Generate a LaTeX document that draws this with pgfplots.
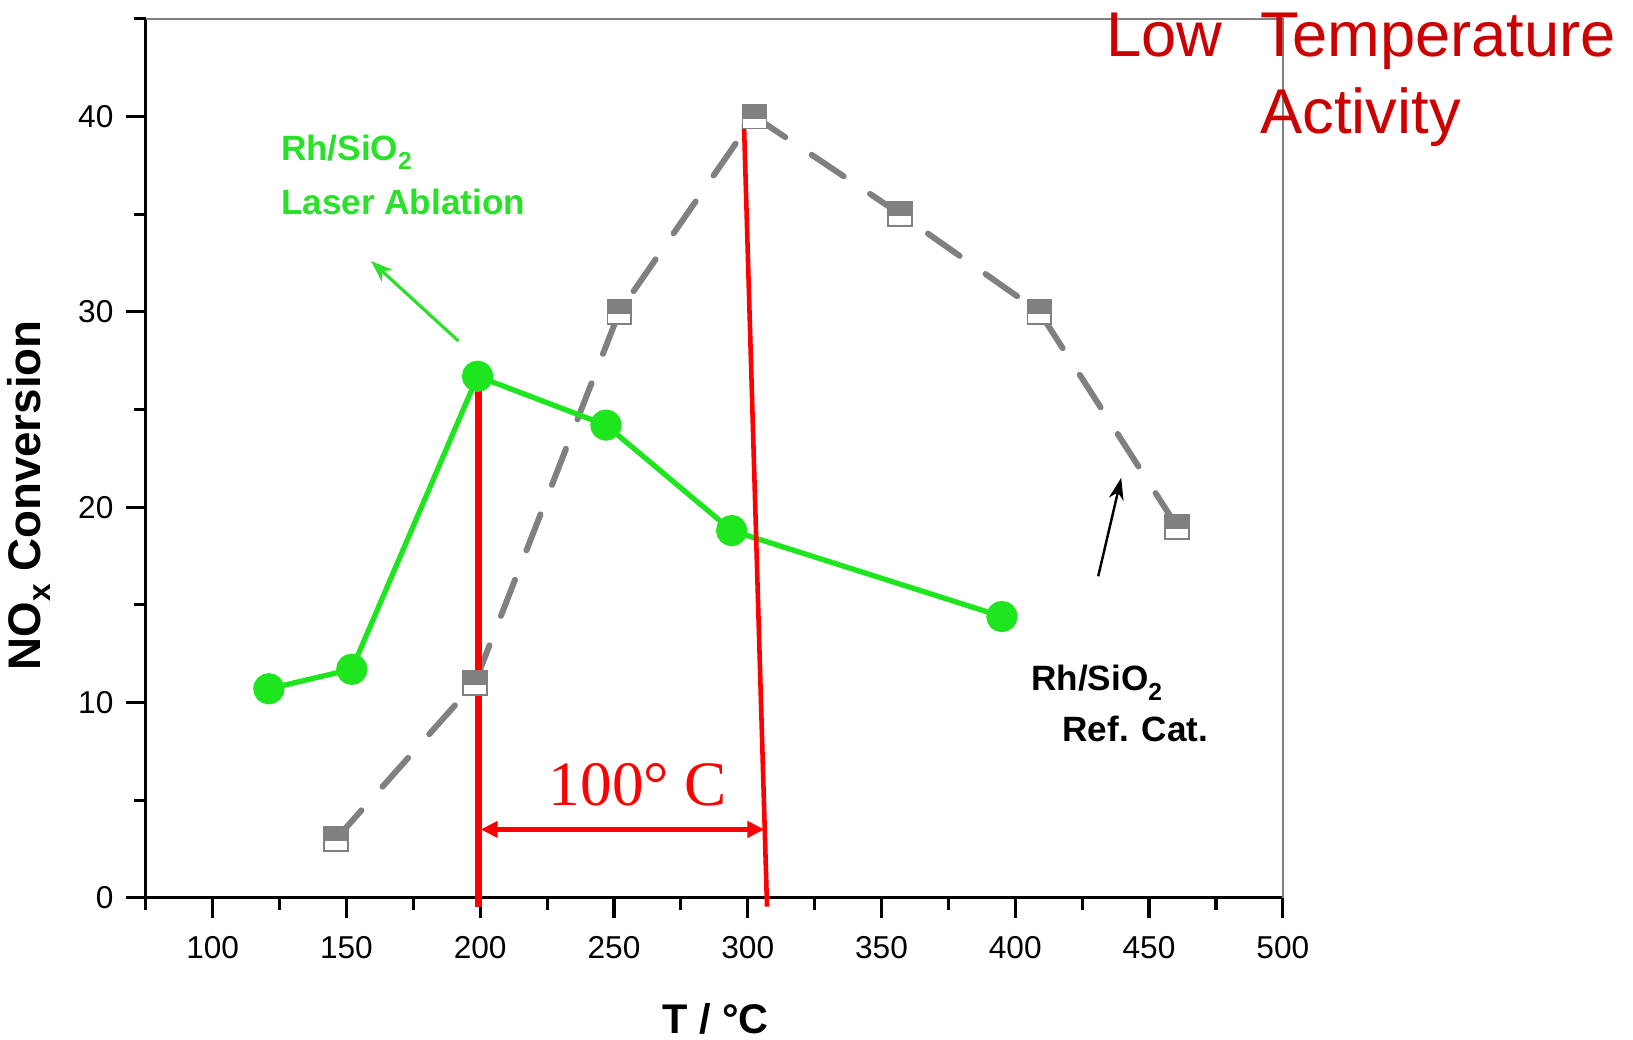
\documentclass[border=0pt]{standalone}
\usepackage{pgfplots}
\pgfplotsset{compat=1.18}
\usepackage{fontspec}
\setmainfont{Liberation Sans}
\newfontfamily\timesfont{Liberation Serif}
\usetikzlibrary{arrows.meta}

\definecolor{curvegreen}{RGB}{30,230,30}
\definecolor{labgreen}{RGB}{40,225,40}
\definecolor{refgray}{RGB}{128,128,128}
\definecolor{darkred}{RGB}{204,0,0}
\definecolor{brightred}{RGB}{255,0,0}

% square, upper half filled grey, lower half white
\pgfdeclareplotmark{halfsq}{%
  \pgfsetfillcolor{white}%
  \pgfpathrectangle{\pgfqpoint{-\pgfplotmarksize}{-\pgfplotmarksize}}{\pgfqpoint{2\pgfplotmarksize}{2\pgfplotmarksize}}%
  \pgfusepath{fill,stroke}%
  \pgfsetfillcolor{refgray}%
  \pgfpathrectangle{\pgfqpoint{-\pgfplotmarksize}{-0.1\pgfplotmarksize}}{\pgfqpoint{2\pgfplotmarksize}{1.1\pgfplotmarksize}}%
  \pgfusepath{fill,stroke}%
}

\begin{document}
\begin{tikzpicture}
\begin{axis}[
    at={(0,0)}, anchor=south west,
    scale only axis, width=113.7mm, height=87.9mm,
    xmin=75, xmax=500, ymin=0, ymax=45,
    axis x line*=bottom, axis y line*=left,
    axis line style={black, line width=0.9pt, -},
    xtick={100,150,...,500}, minor xtick={75,125,...,475},
    ytick={0,10,...,40}, minor ytick={5,15,...,45},
    tick align=outside,
    major tick length=2mm, minor tick length=1.2mm,
    tick style={black, line width=0.9pt},
    tick label style={font=\fontsize{9}{10}\selectfont},
    xticklabel style={yshift=-0.6mm},
    /pgf/number format/assume math mode=true,
    clip=false,
]
% frame top and right
\draw[refgray, line width=0.4pt] (rel axis cs:0,1) -- (rel axis cs:1,1) -- (rel axis cs:1,0);

% reference catalyst: markers below, dashed line above
\addplot[only marks, mark=halfsq, mark size=3.4pt, mark options={draw=refgray, line width=0.5pt}]
  coordinates {(146,3.0) (198,11.0) (252,30.0) (302.5,40.0) (357,35.0) (409,30.0) (460.5,19.0)};
\addplot[refgray, line width=1.7pt, line cap=round, dash pattern=on 11pt off 9pt, no markers]
  coordinates {(146,3.0) (198,11.0) (252,30.0) (302.5,40.0) (357,35.0) (409,30.0) (460.5,19.0)};

% laser ablation
\addplot[curvegreen, line width=1.5pt, mark=*, mark size=3.7pt, mark options={fill=curvegreen, draw=curvegreen}]
  coordinates {(121,10.7) (152,11.7) (199,26.7) (247,24.2) (294,18.8) (395,14.4)};

% red annotation
\draw[brightred, line width=1.8pt] (axis cs:199.3,26.5) -- (axis cs:199.3,-0.45);
\draw[brightred, line width=1.3pt] (axis cs:298.6,39.6) -- (axis cs:307.2,-0.45);
\draw[brightred, line width=1.2pt, {Triangle[length=1.7mm,width=1.6mm]}-{Triangle[length=1.7mm,width=1.6mm]}]
  (axis cs:200.2,3.5) -- (axis cs:306.2,3.5);
\node[anchor=base west, text=brightred, font=\timesfont\fontsize{18}{20}\selectfont, inner sep=0pt]
  at (axis cs:225.4,4.74) {100° C};

% arrows
\draw[labgreen, line width=0.9pt, -{Stealth[length=2.2mm,width=1.6mm]}] (axis cs:191.9,28.5) -- (axis cs:159.2,32.6);
\draw[black, line width=0.7pt, -{Stealth[length=2.2mm,width=1.5mm]}] (axis cs:431,16.46) -- (axis cs:439.6,21.5);

% labels
\node[anchor=base west, text=labgreen, font=\bfseries\fontsize{10}{12}\selectfont, inner sep=0pt]
  at (axis cs:125.3,37.76) {Rh/SiO\raisebox{-0.5ex}{\fontsize{7}{8}\selectfont 2}};
\node[anchor=base west, text=labgreen, font=\bfseries\fontsize{10}{12}\selectfont, inner sep=0pt]
  at (axis cs:125.3,35.0) {Laser Ablation};
\node[anchor=base west, font=\bfseries\fontsize{10}{12}\selectfont, inner sep=0pt]
  at (axis cs:405.7,10.6) {Rh/SiO\raisebox{-0.5ex}{\fontsize{7}{8}\selectfont 2}};
\node[anchor=base west, font=\bfseries\fontsize{10}{12}\selectfont, inner sep=0pt]
  at (axis cs:417.4,8.0) {Ref. Cat.};
\node[anchor=base west, text=darkred, font=\fontsize{18}{20}\selectfont, inner sep=0pt]
  at (axis cs:433.7,43.09) {Low};
\node[anchor=base west, text=darkred, font=\fontsize{18}{20}\selectfont, inner sep=0pt]
  at (axis cs:491.4,43.09) {Temperature};
\node[anchor=base west, text=darkred, font=\fontsize{18}{20}\selectfont, inner sep=0pt]
  at (axis cs:491.4,39.15) {Activity};

% axis titles
\node[rotate=90, inner sep=0pt, font=\bfseries\fontsize{13}{15}\selectfont]
  at ([xshift=-11.7mm]axis cs:75,20.6) {NO\raisebox{-0.4ex}{\fontsize{9}{10}\selectfont x} Conversion};
\node[inner sep=0pt, font=\bfseries\fontsize{11.8}{14}\selectfont]
  at ([yshift=-12.1mm]axis cs:288,0) {T / °C};
\end{axis}
\path (-14.58mm,-14.2mm) rectangle (148.72mm,89.78mm);
\end{tikzpicture}
\end{document}
